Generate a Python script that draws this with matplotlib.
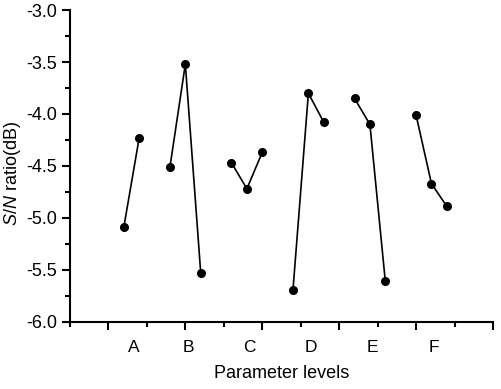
import numpy as np
import matplotlib
matplotlib.use('Agg')
import matplotlib.pyplot as plt
from matplotlib.ticker import MultipleLocator, FixedLocator, NullFormatter

plt.rcParams['font.family'] = 'Liberation Sans'
plt.rcParams['mathtext.fontset'] = 'custom'
plt.rcParams['mathtext.it'] = 'Liberation Sans:italic'
plt.rcParams['mathtext.rm'] = 'Liberation Sans'

# S/N ratio for each parameter level
factors = ['A', 'B', 'C', 'D', 'E', 'F']
sn_A = [-5.09, -4.23]
sn_B = [-4.51, -3.52, -5.53]
sn_C = [-4.47, -4.72, -4.37]
sn_D = [-5.69, -3.80, -4.08]
sn_E = [-3.85, -4.10, -5.61]
sn_F = [-4.01, -4.67, -4.89]
groups = [sn_A, sn_B, sn_C, sn_D, sn_E, sn_F]

fig = plt.figure(figsize=(5.02, 3.89), dpi=100)
ax = fig.add_axes([0.1394, 0.173, 0.8426, 0.801])

for i, vals in enumerate(groups):
    n = len(vals)
    # groups of 3 slots, short groups aligned to the right
    x = 0.4 * (4 * i + 2.5 + np.arange(n) + (3 - n))
    ax.plot(x, vals, 'k-', lw=1.2, marker='o', ms=5.5)
    ax.annotate(factors[i], xy=(x.mean() + 0.07, -0.082),
                xycoords=('data', 'axes fraction'),
                ha='center', va='center', fontsize=12.5)

ax.set_xlim(0, 11)
ax.set_ylim(-6.0, -3.0)
ax.xaxis.set_major_locator(FixedLocator([1, 3, 5, 7, 9, 11]))
ax.xaxis.set_minor_locator(FixedLocator([0, 2, 4, 6, 8, 10]))
ax.xaxis.set_major_formatter(NullFormatter())
ax.yaxis.set_major_locator(MultipleLocator(0.5))
ax.yaxis.set_minor_locator(MultipleLocator(0.25))
ax.yaxis.set_major_formatter(plt.FuncFormatter(lambda v, p: '%.1f' % v))

ax.spines['top'].set_visible(False)
ax.spines['right'].set_visible(False)
for s in ['left', 'bottom']:
    ax.spines[s].set_linewidth(1.5)
ax.tick_params(which='major', length=6, width=1.5, labelsize=13, pad=3)
ax.tick_params(which='minor', length=3.5, width=1.5)

ax.set_xlabel('Parameter levels', fontsize=13)
ax.xaxis.set_label_coords(0.5, -0.14)
ax.xaxis.label.set_va('top')
ax.set_ylabel(r'$\it{S/N}$ ratio(dB)', fontsize=13)
ax.yaxis.set_label_coords(-0.137, 0.476)
ax.yaxis.label.set_va('center')

fig.savefig('out.png', dpi=100)
